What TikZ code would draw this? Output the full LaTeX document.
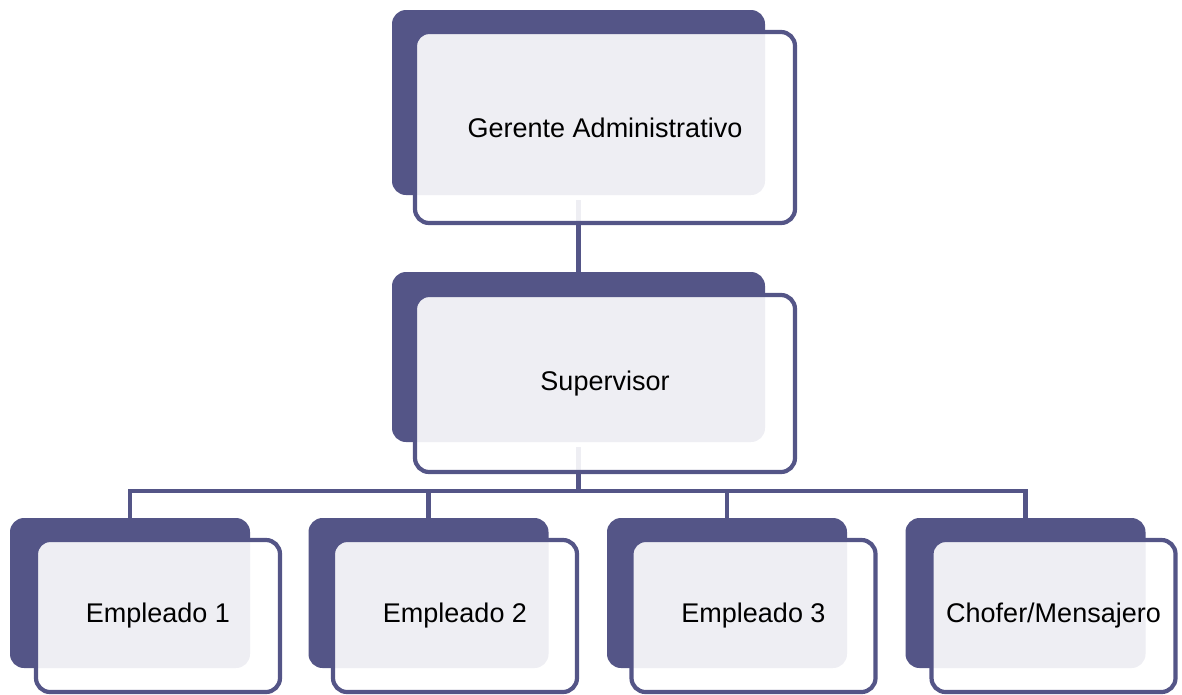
\documentclass[tikz,border=0pt]{standalone}
\usepackage{fontspec}
\setmainfont{Liberation Sans}
\definecolor{boxdark}{RGB}{84,85,135}
\tikzset{
  backbox/.style={rectangle, rounded corners=14pt, fill=boxdark, draw=none, inner sep=0pt},
  frontbox/.style={rectangle, rounded corners=14pt, draw=boxdark, line width=4.2pt,
    fill=white, fill opacity=0.9, text opacity=1, inner sep=0pt, font=\fontsize{27}{31}\selectfont},
  link/.style={draw=boxdark, line width=4.5pt}
}
\begin{document}
\begin{tikzpicture}[x=1pt,y=-1pt]
\useasboundingbox (0,0) rectangle (1182,694);
% back boxes
\node[backbox, minimum width=373pt, minimum height=185pt] (gb) at (578.5,102.5) {};
\node[backbox, minimum width=373pt, minimum height=170pt] (sb) at (578.5,357) {};
\node[backbox, minimum width=240pt, minimum height=150pt] (e1b) at (130,593) {};
\node[backbox, minimum width=240pt, minimum height=150pt] (e2b) at (428.5,593) {};
\node[backbox, minimum width=240pt, minimum height=150pt] (e3b) at (727,593) {};
\node[backbox, minimum width=240pt, minimum height=150pt] (cb) at (1025.5,593) {};
% connectors
\coordinate (bus) at (578.5,491);
\draw[link] ([yshift=-5pt]gb.south) -- (sb.north);
\draw[link] ([yshift=-5pt]sb.south) -- (bus);
\draw[link] (e1b.north) -- (e1b.north |- bus) -- (cb.north |- bus) -- (cb.north);
\draw[link] (e2b.north) -- (e2b.north |- bus);
\draw[link] (e3b.north) -- (e3b.north |- bus);
% front boxes
\node[frontbox, minimum width=380pt, minimum height=191pt] (gf) at (605,127.5) {Gerente Administrativo};
\node[frontbox, minimum width=380pt, minimum height=177pt] (sf) at (605,383.5) {Supervisor};
\node[frontbox, minimum width=244pt, minimum height=152pt] (e1f) at (158,616) {Empleado 1};
\node[frontbox, minimum width=244pt, minimum height=152pt] (e2f) at (455,616) {Empleado 2};
\node[frontbox, minimum width=244pt, minimum height=152pt] (e3f) at (753.5,616) {Empleado 3};
\node[frontbox, minimum width=244pt, minimum height=152pt] (cf) at (1053.5,616) {Chofer/Mensajero};
\end{tikzpicture}
\end{document}
